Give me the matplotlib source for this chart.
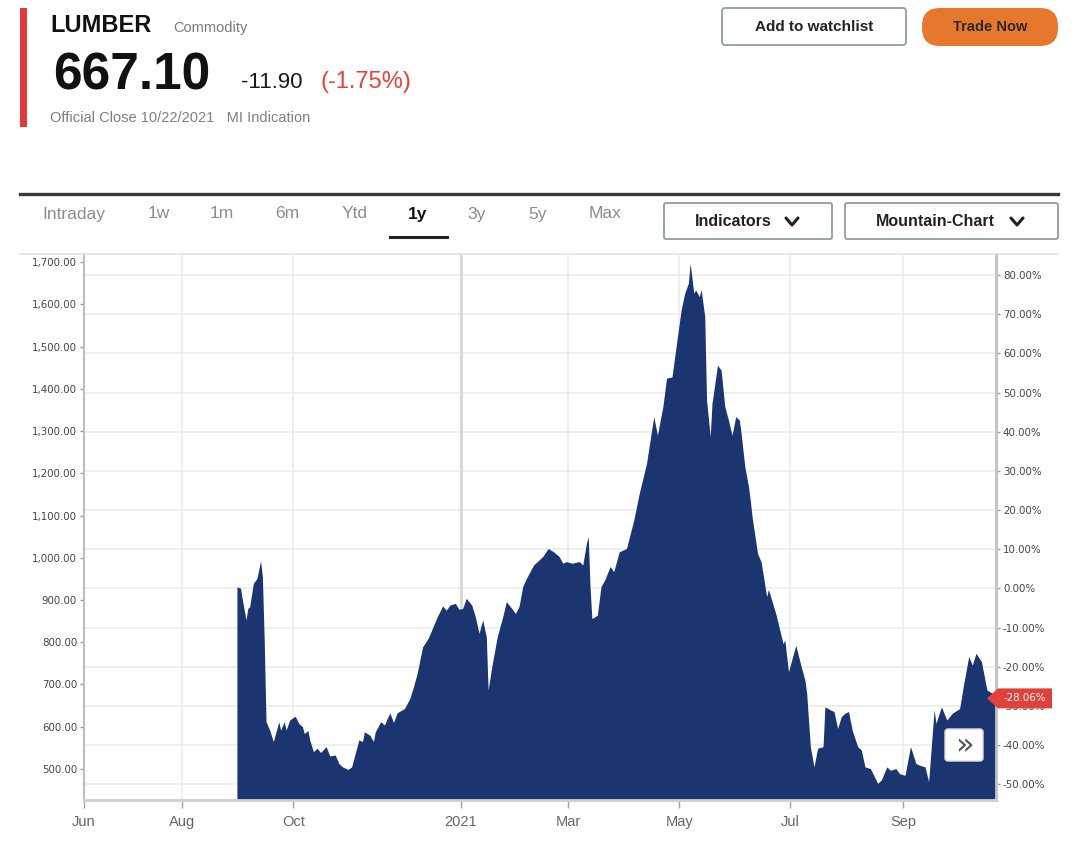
import matplotlib
matplotlib.use("Agg")
import matplotlib.pyplot as plt
import matplotlib.dates as mdates
from matplotlib.ticker import FixedLocator, FuncFormatter
from matplotlib.transforms import Affine2D, ScaledTranslation, blended_transform_factory
from matplotlib.patches import FancyBboxPatch, Rectangle, Polygon
from matplotlib.lines import Line2D
import pandas as pd

# ---------------- data ----------------
dates = [
    "2020-08-31", "2020-09-02", "2020-09-03", "2020-09-05", "2020-09-06", "2020-09-07",
    "2020-09-09", "2020-09-11", "2020-09-13", "2020-09-14", "2020-09-15", "2020-09-16",
    "2020-09-18", "2020-09-20", "2020-09-23", "2020-09-24", "2020-09-26", "2020-09-27",
    "2020-09-29", "2020-10-02", "2020-10-04", "2020-10-06", "2020-10-07", "2020-10-09",
    "2020-10-10", "2020-10-12", "2020-10-14", "2020-10-16", "2020-10-19", "2020-10-21",
    "2020-10-24", "2020-10-26", "2020-10-28", "2020-10-31", "2020-11-02", "2020-11-04",
    "2020-11-06", "2020-11-08", "2020-11-09", "2020-11-12", "2020-11-14", "2020-11-15",
    "2020-11-18", "2020-11-20", "2020-11-23", "2020-11-25", "2020-11-27", "2020-12-01",
    "2020-12-04", "2020-12-06", "2020-12-08", "2020-12-11", "2020-12-14", "2020-12-16",
    "2020-12-19", "2020-12-22", "2020-12-24", "2020-12-26", "2020-12-29", "2020-12-31",
    "2021-01-02", "2021-01-04", "2021-01-07", "2021-01-09", "2021-01-11", "2021-01-13",
    "2021-01-15", "2021-01-16", "2021-01-18", "2021-01-21", "2021-01-24", "2021-01-26",
    "2021-01-29", "2021-01-31", "2021-02-02", "2021-02-04", "2021-02-06", "2021-02-10",
    "2021-02-13", "2021-02-15", "2021-02-18", "2021-02-21", "2021-02-24", "2021-02-26",
    "2021-02-28", "2021-03-03", "2021-03-07", "2021-03-09", "2021-03-11", "2021-03-12",
    "2021-03-13", "2021-03-14", "2021-03-17", "2021-03-19", "2021-03-21", "2021-03-24",
    "2021-03-26", "2021-03-29", "2021-04-02", "2021-04-06", "2021-04-09", "2021-04-13",
    "2021-04-15", "2021-04-17", "2021-04-19", "2021-04-22", "2021-04-24", "2021-04-27",
    "2021-04-29", "2021-05-02", "2021-05-04", "2021-05-06", "2021-05-07", "2021-05-09",
    "2021-05-10", "2021-05-12", "2021-05-13", "2021-05-15", "2021-05-16", "2021-05-18",
    "2021-05-19", "2021-05-22", "2021-05-24", "2021-05-26", "2021-05-28", "2021-05-30",
    "2021-06-01", "2021-06-03", "2021-06-04", "2021-06-06", "2021-06-08", "2021-06-09",
    "2021-06-10", "2021-06-13", "2021-06-15", "2021-06-18", "2021-06-19", "2021-06-23",
    "2021-06-27", "2021-06-28", "2021-06-30", "2021-07-04", "2021-07-07", "2021-07-09",
    "2021-07-10", "2021-07-12", "2021-07-14", "2021-07-16", "2021-07-19", "2021-07-20",
    "2021-07-23", "2021-07-25", "2021-07-27", "2021-07-29", "2021-07-31", "2021-08-02",
    "2021-08-04", "2021-08-07", "2021-08-09", "2021-08-11", "2021-08-14", "2021-08-18",
    "2021-08-20", "2021-08-23", "2021-08-25", "2021-08-28", "2021-08-30", "2021-09-02",
    "2021-09-05", "2021-09-08", "2021-09-10", "2021-09-13", "2021-09-15", "2021-09-18",
    "2021-09-19", "2021-09-22", "2021-09-25", "2021-09-28", "2021-10-02", "2021-10-04",
    "2021-10-07", "2021-10-09", "2021-10-11", "2021-10-14", "2021-10-17", "2021-10-20",
    "2021-10-22",
]
prices = [
    931, 928, 900, 853, 880, 884,
    939, 951, 993, 955, 805, 612,
    592, 565, 612, 592, 612, 592,
    616, 625, 608, 600, 584, 591,
    569, 541, 549, 539, 553, 531,
    533, 513, 505, 499, 505, 537,
    569, 565, 588, 580, 565, 588,
    612, 604, 633, 610, 633, 643,
    667, 695, 726, 789, 809, 829,
    860, 886, 876, 888, 892, 878,
    880, 904, 888, 860, 821, 853,
    813, 687, 742, 813, 860, 896,
    880, 868, 885, 932, 951, 983,
    995, 1003, 1022, 1014, 1003, 987,
    991, 987, 991, 983, 1034, 1050,
    930, 856, 864, 932, 947, 979,
    967, 1014, 1022, 1089, 1152, 1223,
    1279, 1334, 1290, 1358, 1425, 1428,
    1492, 1586, 1626, 1650, 1697, 1626,
    1634, 1618, 1635, 1571, 1373, 1287,
    1366, 1456, 1444, 1358, 1326, 1290,
    1334, 1326, 1294, 1216, 1169, 1137,
    1097, 1010, 990, 908, 925, 868,
    797, 805, 730, 793, 742, 711,
    679, 553, 505, 549, 553, 647,
    640, 636, 596, 624, 632, 636,
    592, 553, 545, 505, 501, 466,
    474, 505, 497, 501, 489, 485,
    553, 513, 509, 505, 470, 640,
    608, 647, 616, 632, 643, 695,
    766, 746, 774, 754, 687, 679,
    667.10,
]
last_change = -11.90
last_change_pct = -1.75
period_change_pct = -28.06
price_ticks = list(range(500, 1701, 100))
pct_ticks = list(range(-50, 81, 10))
month_ticks = ["2020-06-08", "2020-08-01", "2020-10-01", "2021-01-01",
               "2021-03-01", "2021-05-01", "2021-07-01", "2021-09-01"]
month_labels = ["Jun", "Aug", "Oct", "2021", "Mar", "May", "Jul", "Sep"]
tabs = ["Intraday", "1w", "1m", "6m", "Ytd", "1y", "3y", "5y", "Max"]

# ---------------- figure ----------------
W, H = 1080, 846
fig = plt.figure(figsize=(W / 100, H / 100), dpi=100)
fig.patch.set_facecolor("white")
T = Affine2D().scale(1 / W, -1 / H).translate(0, 1) + fig.transFigure  # pixel coords, y from top

NARROW = ["Liberation Sans Narrow", "Liberation Sans", "DejaVu Sans"]
SANS = ["Liberation Sans", "DejaVu Sans"]
NAVY = "#1b3571"

x = pd.to_datetime(dates)
last = prices[-1]
base = last / (1 + period_change_pct / 100)

ax = fig.add_axes([84 / W, 1 - 800 / H, 912 / W, 546 / H])
ax.set_facecolor("white")
ax.set_xlim(pd.Timestamp("2020-06-08"), pd.Timestamp("2021-10-22"))
ax.set_ylim(426.6, 1719)

# grid
for p in pct_ticks:
    ax.axhline(base * (1 + p / 100), color="#ececec", lw=1.2, zorder=0)
for d, lab in zip(month_ticks[1:], month_labels[1:]):
    if lab == "2021":
        ax.axvline(pd.Timestamp(d), color="#d6d6d6", lw=2.0, zorder=0)
    else:
        ax.axvline(pd.Timestamp(d), color="#ececec", lw=1.2, zorder=0)

ax.fill_between(x, prices, 0, color=NAVY, lw=0, zorder=2)

# axes styling
ax.spines["top"].set_visible(False)
ax.spines["left"].set_color("#bdbdbd")
ax.spines["left"].set_linewidth(1.5)
ax.spines["bottom"].set_color("#cfcfcf")
ax.spines["bottom"].set_linewidth(2)
ax.spines["right"].set_color("#c4c4c4")
ax.spines["right"].set_linewidth(2)

ax.yaxis.set_major_locator(FixedLocator(price_ticks))
ax.yaxis.set_major_formatter(FuncFormatter(lambda v, _: f"{v:,.2f}"))
ax.tick_params(axis="y", length=3, width=1, color="#9a9a9a", labelsize=7.4,
               labelcolor="#444444", pad=2)

ax.xaxis.set_major_locator(FixedLocator(mdates.date2num(pd.to_datetime(month_ticks))))
ax.set_xticklabels(month_labels)
ax.tick_params(axis="x", length=6, width=1, color="#a0a0a0", pad=5,
               labelsize=10.5, labelcolor="#666666")
for lab in ax.get_xticklabels():
    lab.set_fontfamily(NARROW)

sec = ax.secondary_yaxis("right", functions=(lambda v: (v / base - 1) * 100,
                                              lambda p: base * (1 + p / 100)))
sec.yaxis.set_major_locator(FixedLocator(pct_ticks))
sec.yaxis.set_major_formatter(FuncFormatter(lambda v, _: f"{v:.2f}%"))
sec.tick_params(axis="y", length=3, width=1, color="#9a9a9a", labelsize=7.4,
                labelcolor="#444444", pad=2)
sec.spines["right"].set_color("#c4c4c4")
sec.spines["right"].set_linewidth(2)

# badge at last value
anchor = ScaledTranslation(1, last, blended_transform_factory(ax.transAxes, ax.transData))
badge_tr = Affine2D() + anchor
badge = Polygon([(-9, 0), (2, -10), (56, -10), (56, 10), (2, 10)], closed=True,
                transform=badge_tr, fc="#e2403a", ec="none", zorder=10, clip_on=False)
fig.add_artist(badge)
fig.text(29, 0, f"{period_change_pct:.2f}%", transform=badge_tr, ha="center",
         va="center", color="white", fontsize=7.4, zorder=11)

# ">>" button
fig.add_artist(FancyBboxPatch((945, 729), 38, 32, boxstyle="round,pad=0,rounding_size=3",
                              transform=T, fc="white", ec="#dddddd", lw=1, zorder=12))
fig.text(964, 746, "»", transform=T, ha="center", va="center", fontsize=22,
         color="#555555", zorder=13)

# ---------------- header ----------------
fig.add_artist(Rectangle((20, 8), 7, 119, transform=T, fc="#e03a3a", ec="none"))
fig.text(50, 32, "LUMBER", transform=T, fontsize=17, fontweight="bold",
         color="#111111", family=SANS, va="baseline")
fig.text(173, 32, "Commodity", transform=T, fontsize=10.5, color="#7a7a7a",
         family=SANS, va="baseline")
fig.text(53, 89, f"{last:.2f}", transform=T, fontsize=37, fontweight="bold",
         color="#111111", family=SANS, va="baseline")
fig.text(241, 88, f"{last_change:.2f}", transform=T, fontsize=16, color="#1a1a1a",
         family=SANS, va="baseline")
fig.text(321, 88, f"({last_change_pct:.2f}%)", transform=T, fontsize=17,
         color="#e5413b", family=SANS, va="baseline")
fig.text(50, 122, "Official Close 10/22/2021   MI Indication", transform=T,
         fontsize=10.5, color="#7f7f7f", family=SANS, va="baseline")

fig.add_artist(FancyBboxPatch((722, 8), 184, 37, boxstyle="round,pad=0,rounding_size=3",
                              transform=T, fc="white", ec="#8f9ca8", lw=1.3))
fig.text(814, 27, "Add to watchlist", transform=T, ha="center", va="center",
         fontsize=11, fontweight="bold", color="#222222", family=SANS)
fig.add_artist(FancyBboxPatch((922, 8), 136, 38, boxstyle="round,pad=0,rounding_size=18",
                              transform=T, fc="#e8772e", ec="none"))
fig.text(990, 27, "Trade Now", transform=T, ha="center", va="center",
         fontsize=10.5, fontweight="bold", color="#2a2a2a", family=SANS)

# ---------------- tab row ----------------
fig.add_artist(Line2D([20, 1058], [194, 194], transform=T, color="#3a3a3a", lw=2.4))
tab_x = [74, 159, 222, 287, 355, 418, 477, 538, 605]
for tx, t in zip(tab_x, tabs):
    active = t == "1y"
    fig.text(tx, 214, t, transform=T, ha="center", va="center", fontsize=12.5,
             color="#111111" if active else "#8c8c8c", family=NARROW,
             fontweight="bold" if active else "normal")
fig.add_artist(Line2D([390, 447], [237, 237], transform=T, color="#222222", lw=2.2))

for (x0, x1, label, tx, cx) in [(664, 832, "Indicators", 733, 792),
                                (845, 1058, "Mountain-Chart", 935, 1017)]:
    fig.add_artist(FancyBboxPatch((x0, 203), x1 - x0, 36,
                                  boxstyle="round,pad=0,rounding_size=2",
                                  transform=T, fc="white", ec="#8f9ca8", lw=1.3))
    fig.text(tx, 222, label, transform=T, ha="center", va="center", fontsize=11.5,
             fontweight="bold", color="#222222", family=NARROW)
    fig.add_artist(Line2D([cx - 6, cx, cx + 6], [218, 225, 218], transform=T,
                          color="#222222", lw=2.2, solid_capstyle="round"))

# chart frame top line
fig.add_artist(Line2D([20, 1058], [254, 254], transform=T, color="#e4e4e4", lw=1.2))

fig.savefig("out.png", dpi=100, facecolor="white")
